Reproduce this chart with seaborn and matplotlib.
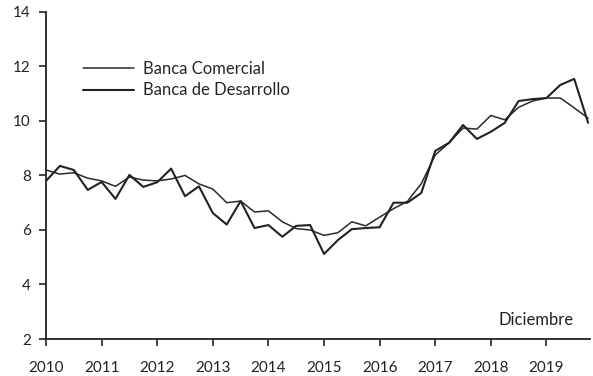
import numpy as np
import pandas as pd
import matplotlib
matplotlib.use("Agg")
import matplotlib.pyplot as plt
import seaborn as sns

# quarterly observations, 2010Q1 .. 2019Q4
years = [2010, 2011, 2012, 2013, 2014, 2015, 2016, 2017, 2018, 2019]
quarters = [y + q / 4 for y in years for q in range(4)]

comercial = [8.2, 8.05, 8.1, 7.9, 7.8, 7.6, 7.94, 7.83, 7.8, 7.87,
             8.0, 7.69, 7.5, 7.0, 7.06, 6.66, 6.7, 6.3, 6.05, 6.0,
             5.8, 5.9, 6.3, 6.15, 6.47, 6.78, 7.05, 7.7, 8.75, 9.2,
             9.74, 9.7, 10.2, 10.04, 10.5, 10.73, 10.84, 10.84, 10.48, 10.1]

desarrollo = [7.8, 8.35, 8.2, 7.47, 7.76, 7.14, 8.02, 7.58, 7.75, 8.25,
              7.24, 7.6, 6.62, 6.2, 7.06, 6.07, 6.18, 5.75, 6.15, 6.18,
              5.12, 5.63, 6.03, 6.07, 6.1, 7.0, 7.0, 7.36, 8.9, 9.2,
              9.85, 9.34, 9.6, 9.93, 10.73, 10.8, 10.84, 11.32, 11.54, 9.93]

df = pd.DataFrame({"fecha": quarters, "Banca Comercial": comercial,
                   "Banca de Desarrollo": desarrollo})

sns.set_style("ticks")
plt.rcParams['font.family'] = ['Lato', 'DejaVu Sans']

fig = plt.figure(figsize=(5.93, 3.76), dpi=100)
ax = fig.add_axes([0.0776, 0.0984, 0.917, 0.87])

sns.lineplot(data=df, x="fecha", y="Banca Comercial", color="#2a2a2a",
             lw=1.1, label="Banca Comercial", ax=ax)
sns.lineplot(data=df, x="fecha", y="Banca de Desarrollo", color="#222222",
             lw=1.5, label="Banca de Desarrollo", ax=ax)

ax.set_xlim(2010, 2019.78)
ax.set_ylim(2, 14)
ax.set_xticks(years)
ax.set_yticks([2, 4, 6, 8, 10, 12, 14])
ax.set_xlabel("")
ax.set_ylabel("")
sns.despine(ax=ax)
for s in ["left", "bottom"]:
    ax.spines[s].set_linewidth(1.3)
    ax.spines[s].set_color("#222222")
ax.tick_params(axis="both", labelsize=11, colors="#222222", width=1.2,
               length=5, direction="out", pad=6)
ax.tick_params(axis="x", pad=11)

ax.legend(loc="upper left", bbox_to_anchor=(0.04, 0.897), frameon=False,
          fontsize=12, handlelength=3.1, handletextpad=0.5, labelspacing=0.35)

ax.text(0.97, 0.058, "Diciembre", transform=ax.transAxes, ha="right",
        va="center", fontsize=12, color="#222222")

fig.savefig("out.png", dpi=100)
